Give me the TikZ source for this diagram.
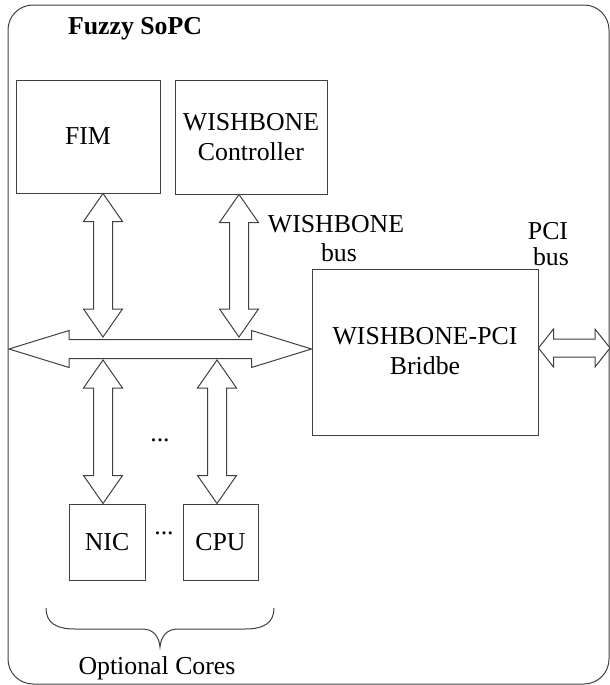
\documentclass[tikz,border=0pt]{standalone}
\usepackage{fontspec}
\setmainfont{Liberation Serif}
\usetikzlibrary{calc}
\newcommand\vbusarrow[2]{%
  \draw[busline] (#1) -- ($(#1)+(19.5,28)$) -- ($(#1)+(9.5,28)$) -- ($(#2)+(9.5,-28)$) -- ($(#2)+(19.5,-28)$) -- (#2)
   -- ($(#2)+(-19.5,-28)$) -- ($(#2)+(-9.5,-28)$) -- ($(#1)+(-9.5,28)$) -- ($(#1)+(-19.5,28)$) -- cycle;}
\newcommand\hbusarrow[5]{%
  \draw[busline] (#1) -- ($(#1)+(#3,-#4)$) -- ($(#1)+(#3,-#5)$) -- ($(#2)+(-#3,-#5)$) -- ($(#2)+(-#3,-#4)$) -- (#2)
   -- ($(#2)+(-#3,#4)$) -- ($(#2)+(-#3,#5)$) -- ($(#1)+(#3,#5)$) -- ($(#1)+(#3,#4)$) -- cycle;}
\begin{document}
\begin{tikzpicture}[x=0.5pt,y=-0.5pt,
  every node/.style={font=\fontsize{12.9pt}{15pt}\selectfont, text=black},
  blockbox/.style={draw=black!75, line width=0.5pt, align=center, inner sep=0pt},
  busline/.style={draw=black!75, line width=0.5pt, fill=white, line join=miter},
  lbl/.style={align=center, inner sep=0pt}]
\useasboundingbox (0,0) rectangle (610,685);
% outer frame
\node[draw=black!75, line width=0.5pt, rounded corners=12.5pt, minimum width=300.5pt, minimum height=339.5pt, inner sep=0pt] (sopc) at (308.5,344.5) {};
\node[lbl, font=\fontsize{12.9pt}{15pt}\selectfont\bfseries] (title) at (135,29) {Fuzzy SoPC};
% blocks
\node[blockbox, minimum width=72pt, minimum height=56.5pt] (fim) at (88,136.5) {FIM};
\node[blockbox, minimum width=76pt, minimum height=57pt] (ctrl) at (251,137) {WISHBONE\\Controller};
\node[blockbox, minimum width=113pt, minimum height=83pt] (bridge) at (425,352) {};
\node[lbl] (bridgetxt) at (425,351) {WISHBONE-PCI\\Bridbe};
\node[blockbox, minimum width=38pt, minimum height=38pt] (nic) at (107,542) {NIC};
\node[blockbox, minimum width=37.5pt, minimum height=38pt] (cpu) at (220.5,542) {CPU};
% coordinates
\coordinate (a1t) at (fim.south -| 103,0);
\coordinate (a1b) at (103,337);
\coordinate (a2t) at (ctrl.south -| 239,0);
\coordinate (a2b) at (239,337);
\coordinate (a3t) at (103,360);
\coordinate (a3b) at (nic.north -| 103,0);
\coordinate (a4t) at (217,360);
\coordinate (a4b) at (cpu.north -| 217,0);
\coordinate (busL) at (9,349);
\coordinate (busR) at (bridge.west |- busL);
\coordinate (pciL) at (bridge.east |- 0,348);
\coordinate (pciR) at (610,348);
% buses
\hbusarrow{busL}{busR}{60}{18.5}{9.5}
\hbusarrow{pciL}{pciR}{15}{19}{9}
\vbusarrow{a1t}{a1b}
\vbusarrow{a2t}{a2b}
\vbusarrow{a3t}{a3b}
\vbusarrow{a4t}{a4b}
% labels
\node[lbl] (wbl) at (336,224) {WISHBONE};
\node[lbl] (wbl2) at (339,253) {bus};
\node[lbl] (pcil) at (548,231) {PCI};
\node[lbl] (pcil2) at (551,257) {bus};
\node[lbl] (dots1) at (160,440) {...};
\node[lbl] (dots2) at (164,533) {...};
% brace
\draw[draw=black!75, line width=0.5pt] (46,608) .. controls (46,622) and (55,629) .. (75,629) -- (142,629)
  .. controls (153,629) and (159,636) .. (160,647) .. controls (161,636) and (167,629) .. (178,629)
  -- (245,629) .. controls (265,629) and (274,622) .. (274,608);
\node[lbl] (opt) at (157,668) {Optional Cores};
\end{tikzpicture}
\end{document}
